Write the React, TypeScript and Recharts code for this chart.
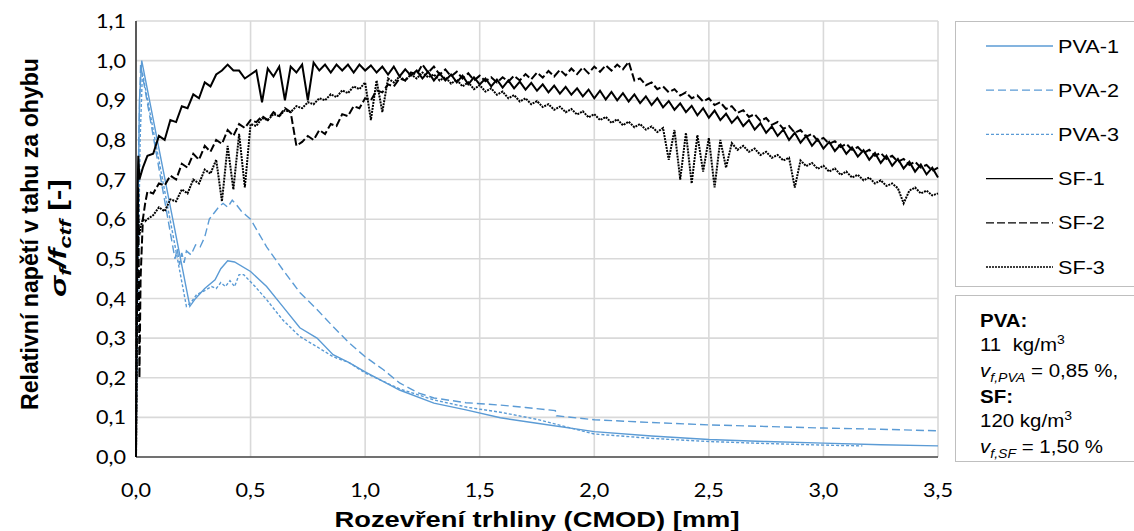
import { LineChart, Line, XAxis, YAxis, CartesianGrid } from "recharts";

const xTicks = [0, 0.5, 1, 1.5, 2, 2.5, 3, 3.5];
const yTicks = [0, 0.1, 0.2, 0.3, 0.4, 0.5, 0.6, 0.7, 0.8, 0.9, 1.0, 1.1];

// PVA curves
const pva1X = [0, 0.005, 0.015, 0.025, 0.235, 0.26, 0.3, 0.345, 0.37, 0.4, 0.43, 0.5, 0.57, 0.64, 0.715, 0.79, 0.86, 0.93, 1.0, 1.15, 1.3, 1.44, 1.59, 1.75, 2.0, 2.25, 2.5, 2.75, 3.0, 3.25, 3.5];
const pva1Y = [0, 0.45, 0.9, 1.0, 0.38, 0.4, 0.425, 0.447, 0.475, 0.495, 0.492, 0.468, 0.43, 0.38, 0.326, 0.3, 0.258, 0.238, 0.215, 0.169, 0.136, 0.119, 0.099, 0.085, 0.064, 0.053, 0.044, 0.039, 0.035, 0.031, 0.028];

const pva2X = [0, 0.005, 0.012, 0.02, 0.17, 0.18, 0.19, 0.2, 0.21, 0.22, 0.24, 0.26, 0.28, 0.3, 0.32, 0.34, 0.36, 0.38, 0.4, 0.42, 0.44, 0.46, 0.48, 0.5, 0.57, 0.64, 0.715, 0.79, 0.86, 0.93, 1.0, 1.08, 1.15, 1.23, 1.3, 1.44, 1.59, 1.7, 1.83, 1.835, 2.0, 2.25, 2.5, 2.75, 3.0, 3.25, 3.5];
const pva2Y = [0, 0.4, 0.8, 0.99, 0.5, 0.525, 0.485, 0.515, 0.49, 0.52, 0.51, 0.535, 0.53, 0.555, 0.6, 0.615, 0.63, 0.64, 0.63, 0.648, 0.635, 0.62, 0.61, 0.6, 0.53, 0.473, 0.415, 0.372, 0.329, 0.288, 0.253, 0.22, 0.187, 0.162, 0.149, 0.137, 0.131, 0.125, 0.117, 0.104, 0.094, 0.087, 0.081, 0.077, 0.073, 0.07, 0.066];

const pva3X = [0, 0.008, 0.018, 0.028, 0.22, 0.24, 0.265, 0.3, 0.33, 0.35, 0.37, 0.39, 0.41, 0.43, 0.45, 0.47, 0.52, 0.57, 0.64, 0.715, 0.79, 0.86, 0.93, 1.0, 1.15, 1.3, 1.45, 1.59, 1.75, 2.0, 2.25, 2.5, 2.75, 3.0, 3.17];
const pva3Y = [0, 0.4, 0.8, 0.97, 0.38, 0.39, 0.41, 0.42, 0.43, 0.425, 0.44, 0.43, 0.445, 0.43, 0.46, 0.46, 0.43, 0.397, 0.346, 0.304, 0.278, 0.253, 0.238, 0.212, 0.172, 0.144, 0.125, 0.113, 0.095, 0.058, 0.047, 0.039, 0.034, 0.03, 0.028];

// SF curves share one set of CMOD sample positions
const sfX = [
  0, 0.005, 0.01, 0.015, 0.02, 0.03, 0.04,
  0.05, 0.075, 0.1, 0.125, 0.15, 0.175, 0.2, 0.225, 0.25, 0.275, 0.3, 0.325, 0.35, 0.375, 0.4, 0.425, 0.45, 0.475, 0.5,
  0.525, 0.55, 0.575, 0.6, 0.625, 0.65, 0.675, 0.7, 0.725, 0.75, 0.775, 0.8, 0.825, 0.85, 0.875, 0.9, 0.925, 0.95, 0.975, 1.0,
  1.025, 1.05, 1.075, 1.1, 1.125, 1.15, 1.175, 1.2, 1.225, 1.25, 1.275, 1.3, 1.325, 1.35, 1.375, 1.4, 1.425, 1.45, 1.475, 1.5,
  1.525, 1.55, 1.575, 1.6, 1.625, 1.65, 1.675, 1.7, 1.725, 1.75, 1.775, 1.8, 1.825, 1.85, 1.875, 1.9, 1.925, 1.95, 1.975, 2.0,
  2.025, 2.05, 2.075, 2.1, 2.125, 2.15, 2.175, 2.2, 2.225, 2.25, 2.275, 2.3, 2.325, 2.35, 2.375, 2.4, 2.425, 2.45, 2.475, 2.5,
  2.525, 2.55, 2.575, 2.6, 2.625, 2.65, 2.675, 2.7, 2.725, 2.75, 2.775, 2.8, 2.825, 2.85, 2.875, 2.9, 2.925, 2.95, 2.975, 3.0,
  3.025, 3.05, 3.075, 3.1, 3.125, 3.15, 3.175, 3.2, 3.225, 3.25, 3.275, 3.3, 3.325, 3.35, 3.375, 3.4, 3.425, 3.45, 3.475, 3.5,
];

const sf1Y = [
  0, 0.62, 0.76, 0.7, 0.71, 0.73, 0.745,
  0.76, 0.765, 0.81, 0.8, 0.85, 0.845, 0.885, 0.88, 0.915, 0.905, 0.945, 0.935, 0.965, 0.975, 0.99, 0.975, 0.975, 0.955, 0.965,
  0.975, 0.895, 0.98, 0.96, 0.985, 0.9, 0.985, 0.97, 0.99, 0.9, 0.995, 0.975, 0.99, 0.97, 0.99, 0.975, 0.99, 0.97, 0.99, 0.975,
  0.988, 0.97, 0.985, 0.965, 0.985, 0.96, 0.978, 0.962, 0.975, 0.955, 0.972, 0.95, 0.968, 0.95, 0.965, 0.945, 0.962, 0.94, 0.958, 0.94,
  0.955, 0.935, 0.952, 0.932, 0.95, 0.93, 0.947, 0.927, 0.944, 0.924, 0.94, 0.92, 0.937, 0.917, 0.934, 0.914, 0.93, 0.91, 0.927, 0.905,
  0.924, 0.902, 0.921, 0.9, 0.918, 0.897, 0.915, 0.893, 0.91, 0.888, 0.905, 0.882, 0.898, 0.876, 0.892, 0.87, 0.886, 0.862, 0.88, 0.856,
  0.874, 0.85, 0.866, 0.843, 0.858, 0.835, 0.85, 0.826, 0.842, 0.818, 0.834, 0.81, 0.826, 0.8, 0.818, 0.793, 0.81, 0.785, 0.802, 0.778,
  0.795, 0.772, 0.788, 0.765, 0.781, 0.758, 0.774, 0.75, 0.767, 0.742, 0.76, 0.735, 0.752, 0.728, 0.745, 0.72, 0.738, 0.713, 0.73, 0.705,
];

const sf2Y = [
  0, 0.5, 0.68, 0.2, 0.45, 0.6, 0.64,
  0.67, 0.665, 0.69, 0.685, 0.71, 0.7, 0.74, 0.73, 0.765, 0.75, 0.785, 0.77, 0.8, 0.79, 0.825, 0.81, 0.84, 0.83, 0.85,
  0.845, 0.86, 0.85, 0.87, 0.86, 0.88, 0.87, 0.785, 0.795, 0.81, 0.8, 0.825, 0.815, 0.84, 0.835, 0.865, 0.86, 0.885, 0.88, 0.905,
  0.9, 0.925, 0.92, 0.94, 0.935, 0.955, 0.95, 0.97, 0.965, 0.99, 0.97, 0.985, 0.965, 0.978, 0.96, 0.972, 0.955, 0.968, 0.95, 0.962,
  0.948, 0.958, 0.945, 0.958, 0.947, 0.962, 0.95, 0.966, 0.953, 0.97, 0.957, 0.974, 0.96, 0.977, 0.963, 0.98, 0.966, 0.983, 0.968, 0.985,
  0.972, 0.988, 0.975, 0.99, 0.978, 0.997, 0.95, 0.955, 0.938, 0.945, 0.928, 0.935, 0.92, 0.928, 0.912, 0.92, 0.905, 0.912, 0.897, 0.905,
  0.888, 0.895, 0.878, 0.885, 0.868, 0.875, 0.858, 0.865, 0.848, 0.855, 0.838, 0.845, 0.828, 0.835, 0.818, 0.825, 0.808, 0.815, 0.798, 0.805,
  0.79, 0.797, 0.782, 0.79, 0.775, 0.782, 0.767, 0.775, 0.76, 0.767, 0.752, 0.76, 0.745, 0.752, 0.737, 0.745, 0.73, 0.737, 0.722, 0.73,
];

const sf3Y = [
  0, 0.45, 0.6, 0.56, 0.58, 0.6, 0.595,
  0.6, 0.61, 0.63, 0.62, 0.65, 0.645, 0.675, 0.665, 0.7, 0.69, 0.725, 0.715, 0.75, 0.645, 0.785, 0.675, 0.815, 0.68, 0.84,
  0.835, 0.855, 0.85, 0.865, 0.86, 0.875, 0.87, 0.885, 0.88, 0.895, 0.89, 0.905, 0.9, 0.915, 0.908, 0.925, 0.918, 0.935, 0.928, 0.945,
  0.85, 0.95, 0.87, 0.955, 0.945, 0.96, 0.95, 0.965, 0.955, 0.97, 0.958, 0.965, 0.95, 0.958, 0.942, 0.952, 0.935, 0.945, 0.928, 0.938,
  0.922, 0.93, 0.914, 0.922, 0.905, 0.913, 0.897, 0.905, 0.89, 0.898, 0.883, 0.89, 0.876, 0.884, 0.87, 0.878, 0.864, 0.872, 0.857, 0.865,
  0.85, 0.858, 0.843, 0.852, 0.837, 0.846, 0.832, 0.84, 0.826, 0.834, 0.82, 0.83, 0.75, 0.825, 0.7, 0.818, 0.69, 0.812, 0.72, 0.805,
  0.68, 0.8, 0.73, 0.792, 0.775, 0.785, 0.77, 0.778, 0.762, 0.77, 0.755, 0.762, 0.748, 0.755, 0.68, 0.748, 0.734, 0.742, 0.727, 0.735,
  0.72, 0.728, 0.712, 0.72, 0.705, 0.712, 0.698, 0.705, 0.69, 0.698, 0.684, 0.69, 0.678, 0.64, 0.672, 0.68, 0.665, 0.672, 0.66, 0.665,
];

const zip = (xs: number[], ys: number[]) => xs.map((x, i) => ({ x, y: ys[i] }));

const BLUE = "#5b9bd5";
const series = [
  { name: "PVA-1", data: zip(pva1X, pva1Y), color: BLUE, dash: undefined, w: 1.4 },
  { name: "PVA-2", data: zip(pva2X, pva2Y), color: BLUE, dash: "8 4", w: 1.4 },
  { name: "PVA-3", data: zip(pva3X, pva3Y), color: BLUE, dash: "3 2", w: 1.4 },
  { name: "SF-1", data: zip(sfX, sf1Y), color: "#000", dash: undefined, w: 2 },
  { name: "SF-2", data: zip(sfX, sf2Y), color: "#000", dash: "8 3", w: 2 },
  { name: "SF-3", data: zip(sfX, sf3Y), color: "#000", dash: "2 1", w: 2 },
];

const fmt = (v: number) => v.toFixed(1).replace(".", ",");
const ARIAL = "'Liberation Sans', Arial, sans-serif";
const STRETCH = 1.17;

const XTick = (p: any) => (
  <text x={p.x} y={p.y} dy="0.71em" textAnchor="middle" fontFamily="Lato" fontSize={20} fill="#000" textLength={30} lengthAdjust="spacingAndGlyphs">
    {fmt(p.payload.value)}
  </text>
);

const YTick = (p: any) => (
  <text x={p.x} y={p.y} dy="0.355em" textAnchor="end" fontFamily="Lato" fontSize={20} fill="#000" textLength={30} lengthAdjust="spacingAndGlyphs">
    {fmt(p.payload.value)}
  </text>
);

const XTitle = () => (
  <text x={537} y={527} textAnchor="middle" fontFamily={ARIAL} fontWeight="bold" fontSize={22} fill="#000" textLength={405} lengthAdjust="spacingAndGlyphs">
    Rozevření trhliny (CMOD) [mm]
  </text>
);

const YTitle = () => (
  <g fontFamily={ARIAL} fontWeight="bold" fill="#000">
    <text transform="translate(38,234) rotate(-90)" textAnchor="middle" fontSize={23} textLength={352} lengthAdjust="spacingAndGlyphs">
      Relativní napětí v tahu za ohybu
    </text>
    <text transform="translate(66,238) rotate(-90)" textAnchor="middle" fontSize={23} textLength={118} lengthAdjust="spacingAndGlyphs">
      <tspan fontStyle="italic">σ</tspan>
      <tspan fontStyle="italic" fontSize={17} dy={5}>f</tspan>
      <tspan fontStyle="italic" dy={-5}>/f</tspan>
      <tspan fontStyle="italic" fontSize={17} dy={5}>ctf</tspan>
      <tspan dy={-5}> [-]</tspan>
    </text>
  </g>
);

const sub = { fontSize: 12, position: "relative" as const, top: 5, fontStyle: "italic" as const };
const sup = { fontSize: 12, position: "relative" as const, top: -7 };

export default function App() {
  return (
    <div style={{ position: "fixed", left: 0, top: 0, width: 1134, height: 531, background: "#fff", overflow: "hidden" }}>
      <LineChart width={1134} height={531} margin={{ top: 21, right: 196, bottom: 0, left: 0 }}>
        <CartesianGrid stroke="#d9d9d9" strokeWidth={1.6} />
        <XAxis
          dataKey="x"
          type="number"
          domain={[0, 3.5]}
          ticks={xTicks}
          tickLine={false}
          tickMargin={20}
          height={74}
          axisLine={{ stroke: "#000", strokeWidth: 1.2 }}
          tick={XTick}
          label={{ content: XTitle }}
        />
        <YAxis
          type="number"
          domain={[0, 1.1]}
          ticks={yTicks}
          tickLine={false}
          tickMargin={4}
          width={136}
          axisLine={{ stroke: "#000", strokeWidth: 1.2 }}
          tick={YTick}
          label={{ content: YTitle }}
        />
        {series.map((s) => (
          <Line
            key={s.name}
            data={s.data}
            dataKey="y"
            name={s.name}
            type="linear"
            dot={false}
            activeDot={false}
            stroke={s.color}
            strokeWidth={s.w}
            strokeDasharray={s.dash}
            isAnimationActive={false}
          />
        ))}
      </LineChart>

      <div style={{ position: "absolute", left: 955, top: 21, width: 182, height: 266, border: "1px solid #bfbfbf", boxSizing: "border-box" }}>
        <svg width={182} height={266} style={{ position: "absolute", left: 0, top: 0 }}>
          {series.map((s, i) => {
            const y = 24 + i * 44.2;
            return (
              <g key={s.name}>
                <line x1={30} x2={97} y1={y} y2={y} stroke={s.color} strokeWidth={1.3} strokeDasharray={s.dash} />
                <text transform={`translate(102,${y}) scale(${STRETCH},1)`} dy="0.36em" fontFamily={ARIAL} fontSize={18.5} fill="#000">
                  {s.name}
                </text>
              </g>
            );
          })}
        </svg>
      </div>

      <div
        style={{
          position: "absolute",
          left: 955,
          top: 295,
          width: 182,
          height: 167,
          border: "1px solid #bfbfbf",
          boxSizing: "border-box",
          padding: "13px 0 0 24px",
          fontFamily: ARIAL,
          fontSize: 17.5,
          lineHeight: "24px",
          color: "#000",
          whiteSpace: "nowrap",
        }}
      >
        <div style={{ transform: `scaleX(${STRETCH})`, transformOrigin: "0 0" }}>
          <div style={{ fontWeight: "bold" }}>PVA:</div>
          <div>11&nbsp;&nbsp;kg/m<span style={sup}>3</span></div>
          <div><i>v</i><span style={sub}>f,PVA</span> = 0,85 %,</div>
          <div style={{ fontWeight: "bold" }}>SF:</div>
          <div>120 kg/m<span style={sup}>3</span></div>
          <div><i>v</i><span style={sub}>f,SF</span> = 1,50 %</div>
        </div>
      </div>
    </div>
  );
}
